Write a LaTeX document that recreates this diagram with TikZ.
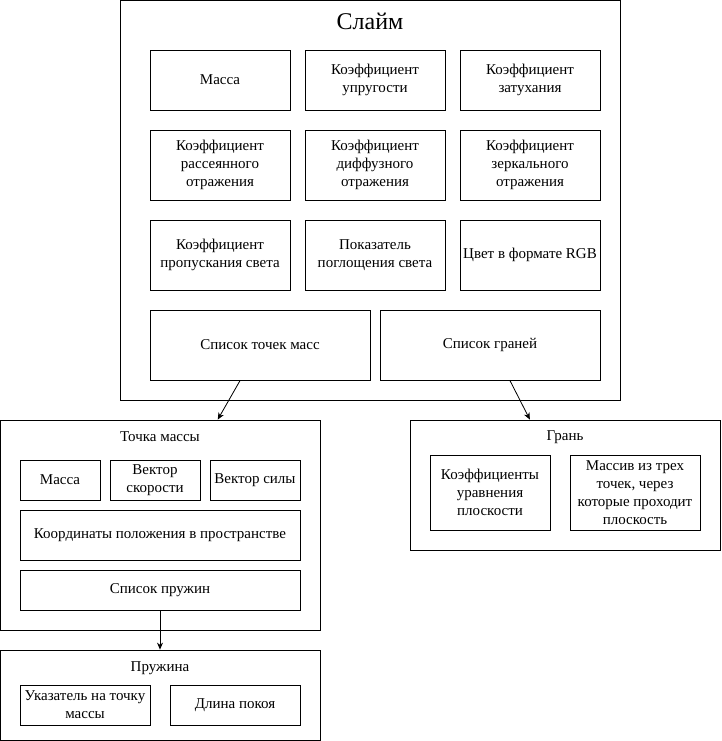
\documentclass[tikz,border=0pt]{standalone}
\usepackage{fontspec}
\setmainfont{Liberation Serif}
\usetikzlibrary{calc,positioning,arrows.meta}

\begin{document}
\begin{tikzpicture}[x=1pt,y=-1pt,>={Stealth[length=7pt,width=6pt]},font=\fontsize{15}{18}\selectfont,
  box/.style={draw,line width=0.8pt,align=center,inner sep=2pt},
  cell/.style={box,minimum width=140pt,minimum height=70pt}]
\useasboundingbox (0,0) rectangle (721,741);
% outer blocks
\node[box,minimum width=500pt,minimum height=400pt] (slime) at (370,200) {};
\node[box,minimum width=320pt,minimum height=210pt] (pt) at (160,525) {};
\node[box,minimum width=310pt,minimum height=130pt] (face) at (565,485) {};
\node[box,minimum width=320pt,minimum height=90pt] (spring) at (160,695) {};
\node[font=\fontsize{24}{28}\selectfont] (slimet) at (370,21) {Слайм};
\node (ptt) at (160,437) {Точка массы};
\node (facet) at (565,437) {Грань};
\node (springt) at (160,668) {Пружина};
% slime fields
\node[cell,minimum height=60pt] (mass) at (220,80) {Масса};
\node[cell,minimum height=60pt] (elast) at (375,80) {Коэффициент\\упругости};
\node[cell,minimum height=60pt] (damp) at (530,80) {Коэффициент\\затухания};
\node[cell] (scat) at (220,165) {Коэффициент\\рассеянного\\отражения};
\node[cell] (diff) at (375,165) {Коэффициент\\диффузного\\отражения};
\node[cell] (spec) at (530,165) {Коэффициент\\зеркального\\отражения};
\node[cell] (trans) at (220,255) {Коэффициент\\пропускания света};
\node[cell] (absorb) at (375,255) {Показатель\\поглощения света};
\node[cell] (rgb) at (530,255) {Цвет в формате RGB};
\node[box,minimum width=220pt,minimum height=70pt] (spts) at (260,345) {Список точек масс};
\node[box,minimum width=220pt,minimum height=70pt] (sfaces) at (490,345) {Список граней};
% mass point fields
\node[box,minimum width=80pt,minimum height=40pt] (pmass) at (60,480) {Масса};
\node[box,minimum width=90pt,minimum height=40pt] (pvel) at (155,480) {Вектор\\скорости};
\node[box,minimum width=90pt,minimum height=40pt,inner sep=0pt] (pforce) at (255,480) {Вектор силы};
\node[box,minimum width=280pt,minimum height=50pt] (ppos) at (160,535) {Координаты положения в пространстве};
\node[box,minimum width=280pt,minimum height=40pt] (slist) at (160,590) {Список пружин};
% face fields
\node[box,minimum width=120pt,minimum height=75pt] (fcoef) at (490,492.5) {Коэффициенты\\уравнения\\плоскости};
\node[box,minimum width=130pt,minimum height=75pt] (fpts) at (635,492.5) {Массив из трех\\точек, через\\которые проходит\\плоскость};
% spring fields
\node[box,minimum width=130pt,minimum height=40pt,inner sep=0pt] (sptr) at (85,705) {Указатель на точку\\массы};
\node[box,minimum width=130pt,minimum height=40pt] (slen) at (235,705) {Длина покоя};
% links
\draw[->,line width=0.8pt] ($(spts.south west)!0.41!(spts.south east)$) -- ($(pt.north west)!0.68!(pt.north east)$);
\draw[->,line width=0.8pt] ($(sfaces.south west)!0.59!(sfaces.south east)$) -- ($(face.north west)!0.387!(face.north east)$);
\draw[->,line width=0.8pt] (slist.south) -- (spring.north);
\end{tikzpicture}
\end{document}
